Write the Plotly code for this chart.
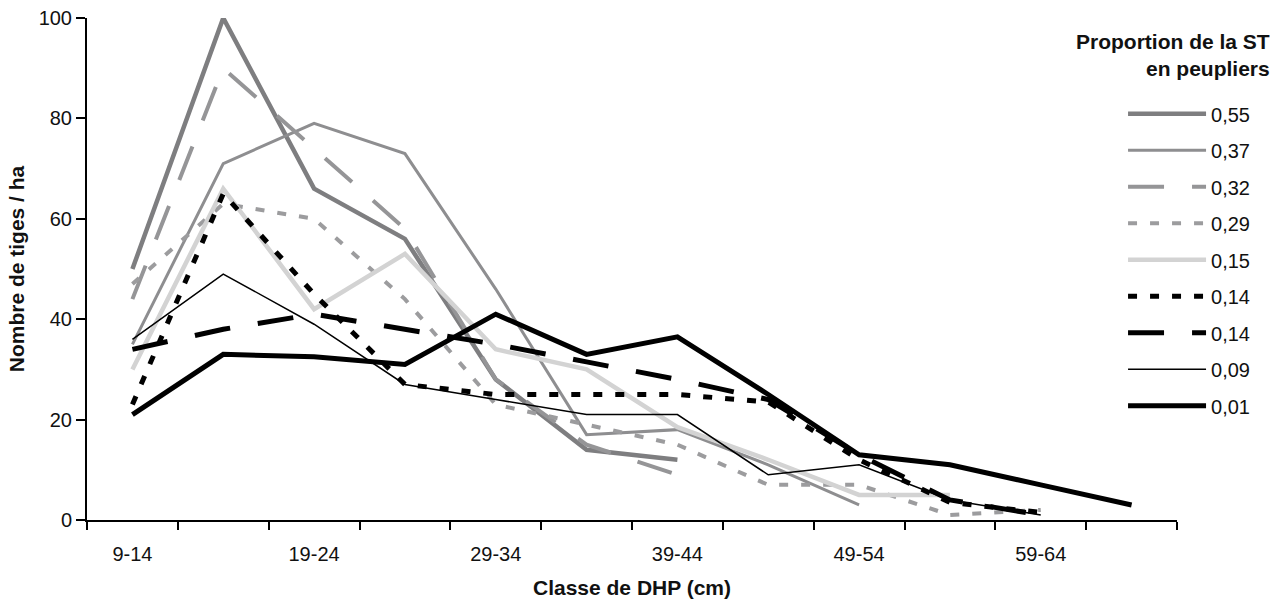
import plotly.graph_objects as go

# DBH classes (cm)
classes = ["9-14", "14-19", "19-24", "24-29", "29-34", "34-39",
           "39-44", "44-49", "49-54", "54-59", "59-64", "64-69"]

# Stems per hectare by DBH class, one series per poplar share of basal area
p055 = [50, 100, 66, 56, 28, 14, 12]
p037 = [35, 71, 79, 73, 46, 17, 18, 11, 3]
p032 = [44, 90, 74, 58, 28, 15, 9]
p029 = [47, 63, 60, 44, 23, 19, 15, 7, 7, 1, 2]
p015 = [30, 66, 42, 53, 34, 30, 18.5, 12, 5, 5]
p014_dot = [23, 65, 45, 27, 25, 25, 25, 23.5, 12, 3.5, 1.5]
p014_dash = [34, 38, 41, 38, 35, 31.5, 28, 24, 13, 4, 1]
p009 = [36, 49, 39, 27, 24, 21, 21, 9, 11, 4, 1]
p001 = [21, 33, 32.5, 31, 41, 33, 36.5, 25, 13, 11, 7, 3]

series_labels = ["0,55", "0,37", "0,32", "0,29", "0,15", "0,14", "0,14", "0,09", "0,01"]
series_values = [p055, p037, p032, p029, p015, p014_dot, p014_dash, p009, p001]
legend_title = "Proportion de la ST<br>en peupliers"

styles = [
    dict(color="#7e7e80", width=4.5, dash="solid"),
    dict(color="#8e8e90", width=3, dash="solid"),
    dict(color="#959597", width=4, dash="36px,28px"),
    dict(color="#9c9c9e", width=4, dash="9px,13px"),
    dict(color="#d3d3d3", width=4.5, dash="solid"),
    dict(color="#000000", width=5, dash="9px,13px"),
    dict(color="#000000", width=5, dash="36px,28px"),
    dict(color="#000000", width=1.5, dash="solid"),
    dict(color="#000000", width=5, dash="solid"),
]

FONT = "Liberation Sans, Arial, Helvetica, sans-serif"
FS = 20
FS_TITLE = 21

fig = go.Figure()
for i, (label, vals, st) in enumerate(zip(series_labels, series_values, styles)):
    fig.add_trace(go.Scatter(
        x=list(range(len(vals))),
        y=vals,
        mode="lines",
        name=label,
        legendgroup=f"g{i}",
        line=dict(color=st["color"], width=st["width"], dash=st["dash"]),
        hoverinfo="x+y+name",
    ))

# legend heading, right-aligned over the legend entries
fig.add_annotation(
    text=f"<b>{legend_title}</b>",
    xref="paper", yref="paper",
    x=1.087, y=0.926,
    xanchor="right", yanchor="middle",
    align="right",
    showarrow=False,
    font=dict(family=FONT, size=FS_TITLE, color="#111111"),
)

fig.update_layout(
    width=1280,
    height=602,
    margin=dict(l=87, r=103, t=18, b=82),
    paper_bgcolor="white",
    plot_bgcolor="white",
    font=dict(family=FONT, size=FS, color="#111111"),
    showlegend=True,
    legend=dict(
        x=0.9505, xanchor="left",
        y=0.848, yanchor="top",
        itemwidth=78,
        tracegroupgap=7.5,
        bgcolor="rgba(0,0,0,0)",
        font=dict(size=FS),
    ),
    xaxis=dict(
        range=[-0.5, 11.5],
        automargin=False,
        tickmode="array",
        tickvals=list(range(0, len(classes), 2)),
        ticktext=classes[::2],
        tickfont=dict(size=FS),
        ticks="outside",
        ticklen=15,
        tickcolor="rgba(0,0,0,0)",
        showgrid=False,
        zeroline=False,
        showline=True,
        linecolor="black",
        linewidth=2,
        minor=dict(
            tickmode="array",
            tickvals=[k - 0.5 for k in range(len(classes) + 1)],
            ticks="outside",
            ticklen=8,
            tickwidth=1.5,
            tickcolor="black",
            showgrid=False,
        ),
        title=dict(text="<b>Classe de DHP (cm)</b>", standoff=16,
                   font=dict(size=FS_TITLE)),
    ),
    yaxis=dict(
        range=[0, 100],
        automargin=False,
        tickmode="array",
        tickvals=[0, 20, 40, 60, 80, 100],
        tickfont=dict(size=FS),
        ticks="outside",
        ticklen=9,
        tickwidth=1.5,
        tickcolor="black",
        showgrid=False,
        zeroline=False,
        showline=True,
        linecolor="black",
        linewidth=2,
        title=dict(text="<b>Nombre de tiges / ha</b>", standoff=8,
                   font=dict(size=FS_TITLE)),
    ),
)

fig.write_html("out.html")
